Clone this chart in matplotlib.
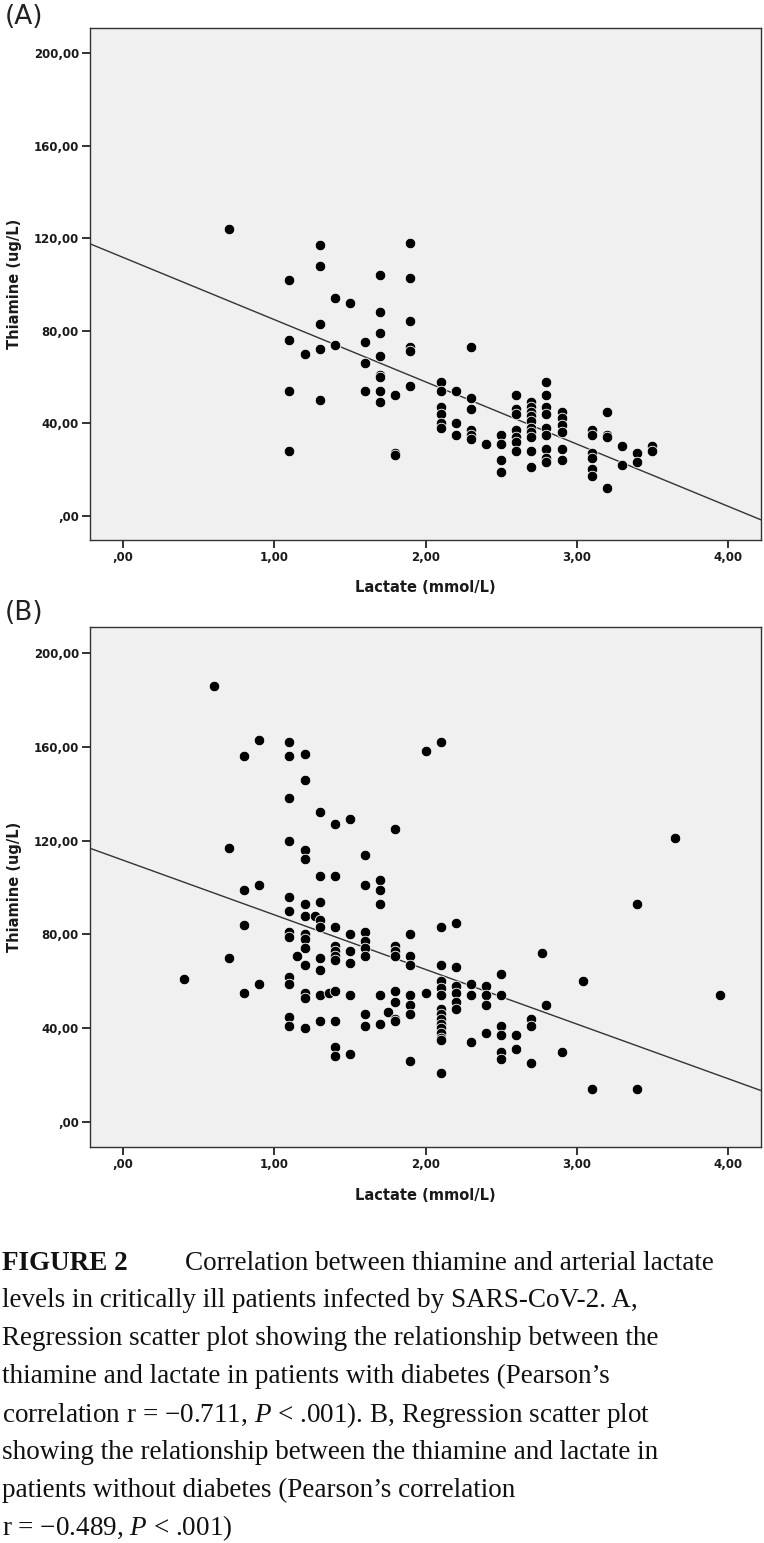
import numpy as np
import matplotlib
matplotlib.use("Agg")
from matplotlib import pyplot as plt
from matplotlib.ticker import FixedLocator, FuncFormatter

# panel A: patients with diabetes (lactate mmol/L, thiamine ug/L)
lactate_a = [0.7,
             1.1, 1.1, 1.1, 1.1,
             1.2,
             1.3, 1.3, 1.3, 1.3, 1.3,
             1.4, 1.4,
             1.5,
             1.6, 1.6, 1.6,
             1.7, 1.7, 1.7, 1.7, 1.7, 1.7, 1.7, 1.7,
             1.8, 1.8, 1.8,
             1.9, 1.9, 1.9, 1.9, 1.9, 1.9,
             2.1, 2.1, 2.1, 2.1, 2.1, 2.1,
             2.2, 2.2, 2.2,
             2.3, 2.3, 2.3, 2.3, 2.3, 2.3,
             2.4,
             2.5, 2.5, 2.5, 2.5,
             2.6, 2.6, 2.6, 2.6, 2.6, 2.6, 2.6,
             2.7, 2.7, 2.7, 2.7, 2.7, 2.7, 2.7, 2.7, 2.7, 2.7,
             2.8, 2.8, 2.8, 2.8, 2.8, 2.8, 2.8, 2.8, 2.8,
             2.9, 2.9, 2.9, 2.9, 2.9, 2.9,
             3.1, 3.1, 3.1, 3.1, 3.1, 3.1,
             3.2, 3.2, 3.2, 3.2,
             3.3, 3.3,
             3.4, 3.4,
             3.5, 3.5]
thiamine_a = [124,
              102, 76, 54, 28,
              70,
              117, 108, 83, 72, 50,
              94, 74,
              92,
              75, 66, 54,
              104, 88, 79, 69, 61, 60, 54, 49,
              52, 27, 26,
              118, 103, 84, 73, 71, 56,
              58, 54, 47, 44, 40, 38,
              54, 40, 35,
              73, 51, 46, 37, 35, 33,
              31,
              35, 31, 24, 19,
              52, 46, 44, 37, 34, 32, 28,
              49, 47, 45, 43, 41, 38, 36, 34, 28, 21,
              58, 52, 47, 44, 38, 35, 29, 25, 23,
              45, 42, 39, 36, 29, 24,
              37, 35, 27, 25, 20, 17,
              45, 35, 34, 12,
              30, 22,
              27, 23,
              30, 28]

# panel B: patients without diabetes
lactate_b = [0.4, 0.6, 0.7, 0.7,
             0.8, 0.8, 0.8, 0.8,
             0.9, 0.9, 0.9,
             1.1, 1.1, 1.1, 1.1, 1.1, 1.1, 1.1, 1.1, 1.1, 1.1, 1.1, 1.1,
             1.15,
             1.2, 1.2, 1.2, 1.2, 1.2, 1.2, 1.2, 1.2, 1.2, 1.2, 1.2, 1.2, 1.2,
             1.27, 1.3, 1.3, 1.3, 1.3, 1.3, 1.3, 1.3, 1.3, 1.3,
             1.36, 1.4, 1.4, 1.4, 1.4, 1.4, 1.4, 1.4, 1.4, 1.4, 1.4, 1.4,
             1.5, 1.5, 1.5, 1.5, 1.5, 1.5,
             1.6, 1.6, 1.6, 1.6, 1.6, 1.6, 1.6, 1.6,
             1.7, 1.7, 1.7, 1.7, 1.7,
             1.75,
             1.8, 1.8, 1.8, 1.8, 1.8, 1.8, 1.8, 1.8,
             1.9, 1.9, 1.9, 1.9, 1.9, 1.9, 1.9,
             2.0, 2.0,
             2.1, 2.1, 2.1, 2.1, 2.1, 2.1, 2.1, 2.1, 2.1, 2.1, 2.1, 2.1, 2.1, 2.1, 2.1,
             2.2, 2.2, 2.2, 2.2, 2.2, 2.2,
             2.3, 2.3, 2.3,
             2.4, 2.4, 2.4, 2.4,
             2.5, 2.5, 2.5, 2.5, 2.5, 2.5,
             2.6, 2.6,
             2.7, 2.7, 2.7,
             2.77, 2.8, 2.9, 3.04, 3.1,
             3.4, 3.4, 3.65, 3.95]
thiamine_b = [61, 186, 117, 70,
              156, 99, 84, 55,
              163, 101, 59,
              162, 156, 138, 120, 96, 90, 81, 79, 62, 59, 45, 41,
              71,
              157, 146, 116, 112, 93, 88, 80, 78, 74, 67, 55, 53, 40,
              88, 132, 105, 94, 86, 83, 70, 65, 54, 43,
              55, 127, 105, 83, 75, 73, 71, 69, 56, 43, 32, 28,
              129, 80, 73, 68, 54, 29,
              114, 101, 81, 77, 74, 71, 46, 41,
              103, 99, 93, 54, 42,
              47,
              125, 75, 73, 71, 56, 51, 44, 43,
              80, 71, 67, 54, 50, 46, 26,
              158, 55,
              162, 83, 67, 60, 57, 54, 48, 46, 44, 42, 40, 38, 36, 35, 21,
              85, 66, 58, 55, 51, 48,
              59, 54, 34,
              58, 54, 50, 38,
              63, 54, 41, 37, 30, 27,
              37, 31,
              44, 41, 25,
              72, 50, 30, 60, 14,
              93, 14, 121, 54]

x_ticks = [0, 1, 2, 3, 4]
y_ticks = [0, 40, 80, 120, 160, 200]

caption_head = "FIGURE 2"
caption_lines = [
    "Correlation between thiamine and arterial lactate",
    "levels in critically ill patients infected by SARS-CoV-2. A,",
    "Regression scatter plot showing the relationship between the",
    "thiamine and lactate in patients with diabetes (Pearson\u2019s",
    "correlation r = \u22120.711, $P$ < .001). B, Regression scatter plot",
    "showing the relationship between the thiamine and lactate in",
    "patients without diabetes (Pearson\u2019s correlation",
    "r = \u22120.489, $P$ < .001)",
]

plt.rcParams["mathtext.fontset"] = "custom"
plt.rcParams["mathtext.it"] = "Liberation Serif:italic"
plt.rcParams["mathtext.rm"] = "Liberation Serif"

W, H = 764, 1543
fig = plt.figure(figsize=(W / 100, H / 100), dpi=100)


def spss_fmt(v, pos):
    s = "%.2f" % v
    s = s.replace(".", ",")
    if s.startswith("0,"):
        s = s[1:]
    return s


def panel(rect, xs, ys, tag, tag_y):
    ax = fig.add_axes(rect)
    ax.set_facecolor("#f0f0f0")
    ax.scatter(xs, ys, s=58, c="black", edgecolors="white", linewidths=0.6, zorder=3)
    xlo, xhi = -0.22, 4.22
    k, b = np.polyfit(xs, ys, 1)
    lx = np.array([xlo, xhi])
    ax.plot(lx, k * lx + b, color="#333333", lw=1.0, zorder=2)
    ax.set_xlim(xlo, xhi)
    ax.set_ylim(-10.6, 211)
    ax.xaxis.set_major_locator(FixedLocator(x_ticks))
    ax.yaxis.set_major_locator(FixedLocator(y_ticks))
    ax.xaxis.set_major_formatter(FuncFormatter(spss_fmt))
    ax.yaxis.set_major_formatter(FuncFormatter(spss_fmt))
    ax.tick_params(axis="both", direction="out", length=6, width=1.3, color="#222222",
                   labelsize=8.5, labelcolor="#1a1a1a", pad=2)
    for lab in ax.get_xticklabels() + ax.get_yticklabels():
        lab.set_fontweight("bold")
    for sp in ax.spines.values():
        sp.set_color("#333333")
        sp.set_linewidth(1.0)
    ax.set_xlabel("Lactate (mmol/L)", fontsize=10.5, fontweight="bold", color="#1a1a1a")
    ax.set_ylabel("Thiamine (ug/L)", fontsize=10.5, fontweight="bold", color="#1a1a1a")
    ax.xaxis.set_label_coords(0.5, -0.078)
    ax.yaxis.set_label_coords(-0.102, 0.5)
    fig.text(5 / W, 1 - tag_y / H, tag, fontsize=19, color="#222222", va="center", ha="left")
    return ax


panel([90 / W, 1 - 540 / H, 671 / W, 512 / H], lactate_a, thiamine_a, "(A)", 17)
panel([90 / W, 1 - 1147 / H, 671 / W, 520 / H], lactate_b, thiamine_b, "(B)", 613)

# caption
serif = "Liberation Serif"
y0 = 1263
step = 37.9
fig.text(2 / W, 1 - y0 / H, caption_head, family=serif, fontweight="bold", fontsize=19.5,
         va="center", ha="left", color="#111111")
for i, line in enumerate(caption_lines):
    x = 185 if i == 0 else 2
    fig.text(x / W, 1 - (y0 + i * step) / H, line, family=serif, fontsize=19.5,
             va="center", ha="left", color="#111111")

fig.savefig("out.png", dpi=100)
